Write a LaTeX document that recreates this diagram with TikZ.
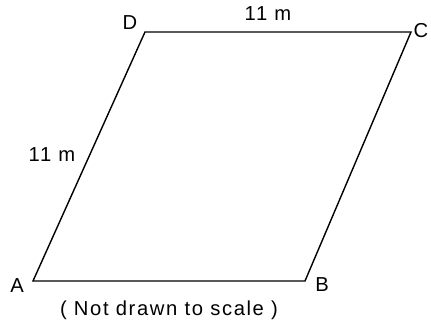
\documentclass[tikz,border=0pt]{standalone}
\usepackage{fontspec}
\setmainfont{Liberation Sans}[LetterSpace=8]
\usetikzlibrary{positioning, calc}
\tikzset{
	vertex/.style ={inner sep=1pt},
	side/.style   ={line width=0.8pt, line join=miter},
	lbl/.style    ={inner sep=1pt},
}

\begin{document}
\begin{tikzpicture}[font=\fontsize{11.5}{13}\selectfont]
	\useasboundingbox (0,0) rectangle (8.62,6.52);
	% corners of the parallelogram
	\coordinate (A) at (0.66,0.90);
	\coordinate (B) at (6.10,0.90);
	\coordinate (C) at (8.22,5.88);
	\coordinate (D) at (2.90,5.88);
	\draw[side] (A) -- (B) -- (C) -- (D) -- cycle;
	% corner names
	\node[vertex] (nA) at (0.34,0.80) {A};
	\node[vertex] (nB) at (6.44,0.82) {B};
	\node[vertex] (nC) at (8.42,5.90) {C};
	\node[vertex] (nD) at (2.60,6.06) {D};
	% side lengths
	\node[lbl] (top) at (5.36,6.24) {11 m};
	\node[lbl] (left) at (1.04,3.42) {11 m};
	\node[lbl] (note) at (3.38,0.32) {( Not drawn to scale )};
\end{tikzpicture}
\end{document}
